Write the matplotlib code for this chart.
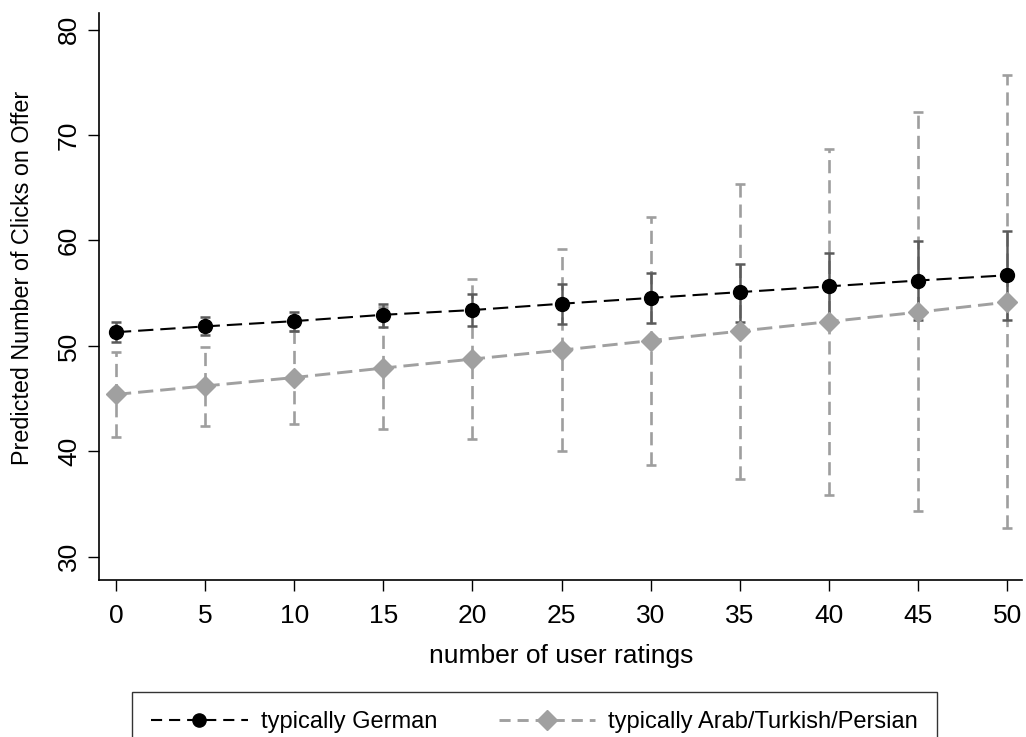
import numpy as np
import matplotlib
matplotlib.use("Agg")
import matplotlib.pyplot as plt
from matplotlib.lines import Line2D

plt.rcParams['font.family'] = ['Liberation Sans', 'DejaVu Sans']
plt.rcParams['lines.scale_dashes'] = False

# Data
ratings = [0, 5, 10, 15, 20, 25, 30, 35, 40, 45, 50]

german = [51.3, 51.85, 52.35, 52.95, 53.4, 54.0, 54.55, 55.1, 55.65, 56.2, 56.7]
german_lo = [50.35, 51.0, 51.4, 51.8, 51.9, 52.1, 52.2, 52.3, 52.35, 52.45, 52.5]
german_hi = [52.25, 52.7, 53.25, 54.0, 54.9, 55.9, 56.9, 57.8, 58.8, 59.95, 60.9]

arab = [45.4, 46.2, 47.0, 47.9, 48.75, 49.6, 50.5, 51.4, 52.3, 53.2, 54.15]
arab_lo = [41.35, 42.4, 42.6, 42.1, 41.2, 40.0, 38.75, 37.35, 35.9, 34.3, 32.75]
arab_hi = [49.4, 49.9, 51.4, 53.7, 56.35, 59.2, 62.25, 65.4, 68.7, 72.2, 75.7]

labels = ['typically German', 'typically Arab/Turkish/Persian']

fig = plt.figure(figsize=(10.26, 7.37), dpi=100)
ax = fig.add_axes([0.0965, 0.2130, 0.9, 0.7698])

x = np.array(ratings)

# confidence intervals
ag = np.array(arab)
err_a = [ag - np.array(arab_lo), np.array(arab_hi) - ag]
eb = ax.errorbar(x, ag, yerr=err_a, fmt='none', ecolor='#9e9e9e', elinewidth=1.9,
                 capsize=3.8, capthick=1.9, zorder=1)
for lc in eb[2]:
    lc.set_linestyle((0, (9.5, 5)))

gm = np.array(german)
err_g = [gm - np.array(german_lo), np.array(german_hi) - gm]
ax.errorbar(x, gm, yerr=err_g, fmt='none', ecolor='#5a5a5a', elinewidth=1.8,
            capsize=3.8, capthick=1.8, zorder=2)

# point estimates
ax.plot(x, gm, color='black', lw=1.5, dashes=(11, 5), marker='o', ms=10,
        mfc='black', mec='black', zorder=3)
ax.plot(x, ag, color='#a0a0a0', lw=2.1, dashes=(11, 5), marker='D', ms=10,
        mfc='#a0a0a0', mec='#a0a0a0', zorder=4)

ax.set_xlim(-0.95, 50.85)
ax.set_ylim(27.8, 81.6)
ax.set_xticks(ratings)
ax.set_yticks([30, 40, 50, 60, 70, 80])
ax.tick_params(axis='both', labelsize=19, length=8, width=1, direction='out')
plt.setp(ax.get_yticklabels(), rotation=90, va='center')
ax.tick_params(axis='y', pad=5)
ax.tick_params(axis='x', pad=9)
for s in ['top', 'right']:
    ax.spines[s].set_visible(False)
ax.spines['left'].set_linewidth(1.2)
ax.spines['bottom'].set_linewidth(1.2)

ax.set_xlabel('number of user ratings', fontsize=19, labelpad=12)
ax.set_ylabel('Predicted Number of Clicks on Offer', fontsize=16.8)
ax.yaxis.set_label_coords(-0.0705, 0.532)

h1 = Line2D([], [], color='black', lw=1.5, dashes=(8, 5), marker='o', ms=9.5)
h2 = Line2D([], [], color='#a0a0a0', lw=2.1, dashes=(8, 5), marker='D', ms=10)
leg = fig.legend([h1, h2], labels, loc='upper center',
                 bbox_to_anchor=(0.521, 1 - 692 / 737),
                 ncol=2, fontsize=17, frameon=True, fancybox=False, handlelength=4.1,
                 columnspacing=2.6, borderpad=0.8, handletextpad=0.55,
                 borderaxespad=0)
leg.get_frame().set_edgecolor('black')
leg.get_frame().set_linewidth(1.0)

fig.savefig('out.png', dpi=100)
